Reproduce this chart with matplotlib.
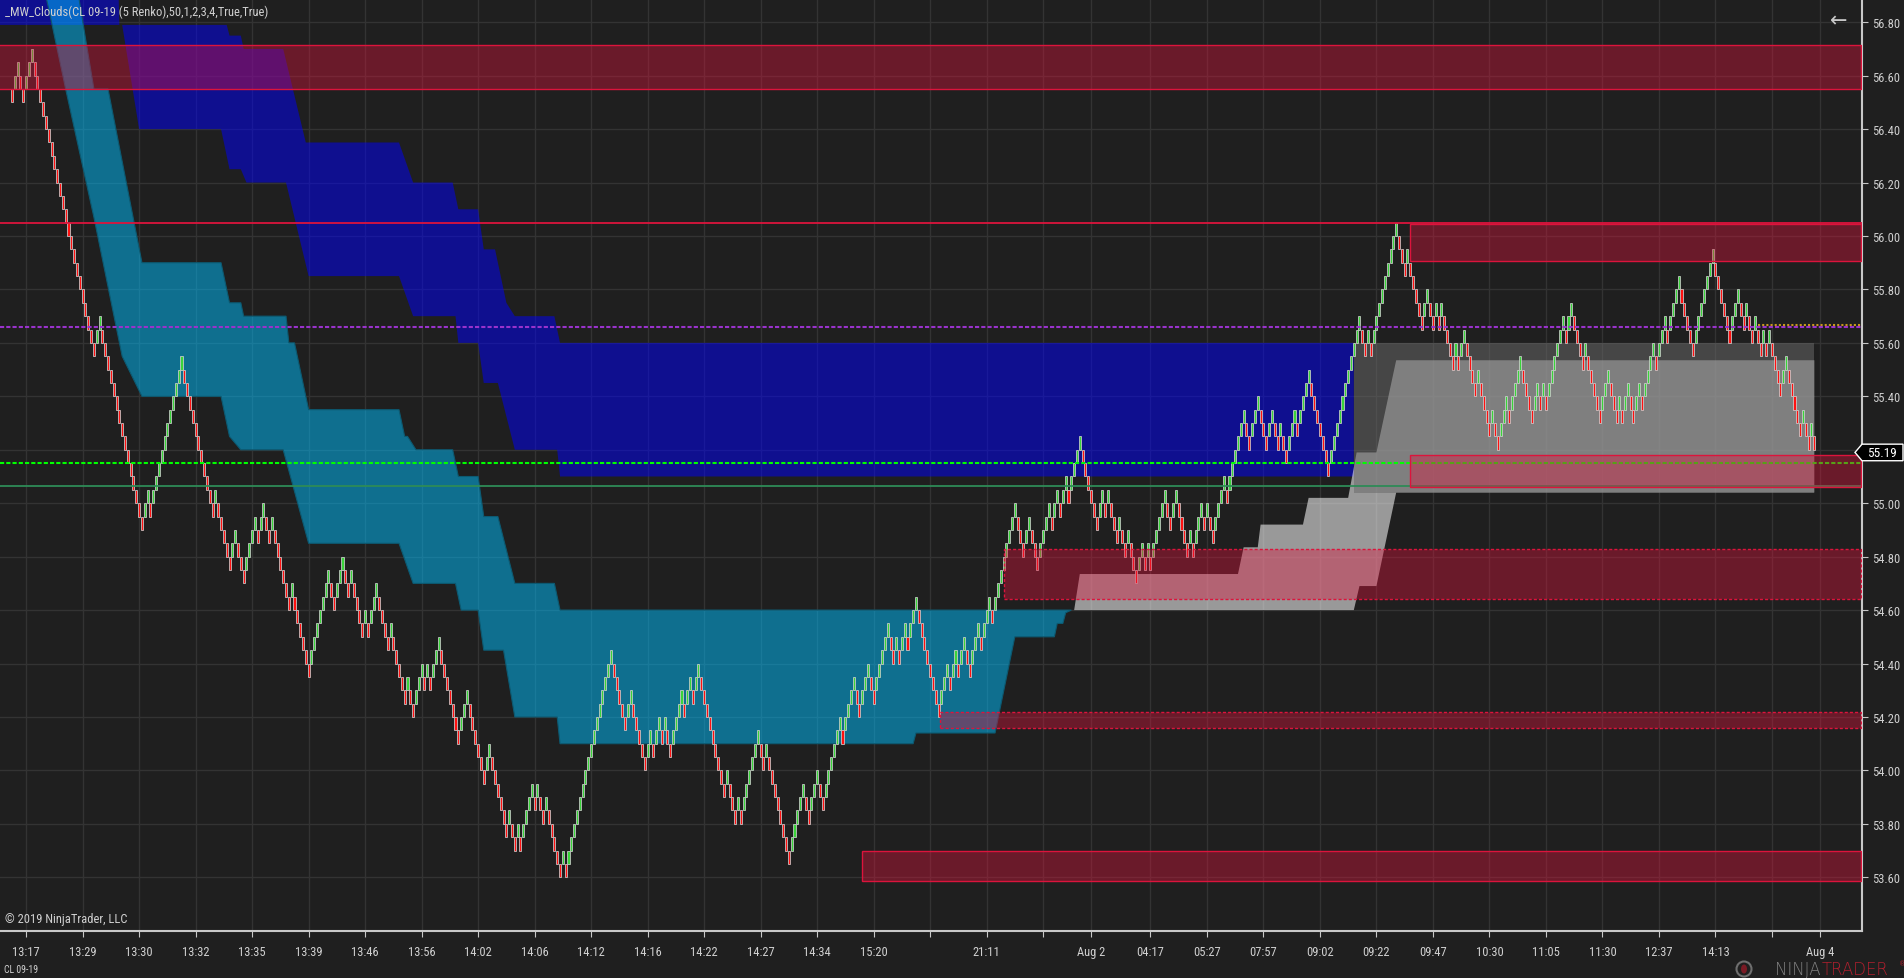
import numpy as np
import matplotlib
matplotlib.use("Agg")
import matplotlib.pyplot as plt
from matplotlib import font_manager
from matplotlib.patches import Rectangle, Polygon, Ellipse
from matplotlib.transforms import blended_transform_factory

# ---- renko bricks (level 0 = box 56.60-56.65), runs of bricks up/down
brick = 0.05
base_price = 56.60
start_level = -2
runs = [
    2, -2, 3, -22, 2, -15, 2, -1, 11, -11, 1,
    -5, 2, -3, 4, -1, 2, -2, 1, -6, 1, -6, 7, -2, 3, -2, 1, -4, 1, -1, 3, -4, 1, -5, 1, -2, 3,
    -1, 1, -1, 3, -7, 3, -6, 2, -6, 1, -2, 1, -1, 4, -1, 1, -2, 1, -5, 1, -1, 16,
    -5, 2, -5, 2, -1, 2, -1, 1, -2, 4, -1, 2, -1, 2, -9, 1, -3, 1, -1, 6, -2, 1, -8, 5, -2, 3,
    -2, 6, -1, 4, -2, 3, -2, 5, -2, 1, -1, 2, -1, 3, -8, 3, -1, 2, -1, 2, -2, 3, -1, 3, -1, 8,
    -3, 2, -3, 4, -1, 2, -1, 2, -1, 4, -6, 2, -1, 1, -3, 1, -2, 1, -3, 2, -1, 1, -1, 5, -2, 2,
    -4, 1, -1, 3, -1, 1, -2, 4, -1, 6, -2, 3, -3, 2, -2, 1, -2, 3, -1, 4, -7, 11, -2, 1, -1, 9,
    -3, 1,
    -5, 2, -2, 1, -1, 1, -4, 1, -1, 2, -4, 1, -4, 1, -2, 3, -1, 4, -4, 2, -1, 1, -1, 6, -1, 2,
    -4, 1, -5, 3, -3, 1, -1, 2, -2, 2, -1, 4, -1, 3, -1, 4, -5, 7, -6, 3, -2, 1, -2, 1, -2, 1,
    -1, 1, -4, 2, -5, 1, -2, 1, -1,
]
last_close = 55.19

# ---- clouds (bar index, price)
blue_up_x = [-5, 37, 38, 76, 77, 81, 82, 96, 104, 137, 142, 156, 158, 165, 167, 171, 175, 178, 192, 194, 475]
blue_up_y = [57.2, 57.2, 56.79, 56.79, 56.75, 56.75, 56.70, 56.70, 56.35, 56.35, 56.20, 56.20, 56.10,
             56.10, 55.95, 55.95, 55.75, 55.70, 55.70, 55.60, 55.60]
blue_lo_x = [-5, 39, 45, 74, 77, 81, 83, 97, 105, 137, 142, 157, 158, 165, 167, 172, 178, 193, 194, 475]
blue_lo_y = [56.79, 56.79, 56.40, 56.40, 56.25, 56.25, 56.20, 56.20, 55.85, 55.85, 55.70, 55.70, 55.60,
             55.60, 55.45, 55.45, 55.20, 55.20, 55.10, 55.10]

cyan_up_x = [-5, 22, 26, 29, 34, 46, 74, 77, 81, 82, 97, 98, 100, 105, 137, 139, 140, 143, 156, 158,
             165, 167, 172, 178, 192, 194, 375]
cyan_up_y = [58.0, 57.0, 56.74, 56.55, 56.55, 55.90, 55.90, 55.75, 55.75, 55.70, 55.70, 55.60, 55.60,
             55.35, 55.35, 55.25, 55.25, 55.20, 55.20, 55.10, 55.10, 54.95, 54.95, 54.70, 54.70,
             54.60, 54.60]
cyan_lo_x = [-5, 13, 19, 29, 39, 46, 74, 77, 81, 96, 105, 137, 142, 157, 159, 165, 167, 174, 178, 193,
             194, 319, 320, 348, 355, 369, 370, 372, 373, 375]
cyan_lo_y = [57.7, 56.85, 56.55, 56.07, 55.55, 55.40, 55.40, 55.25, 55.20, 55.20, 54.85, 54.85, 54.70,
             54.70, 54.60, 54.60, 54.45, 54.45, 54.20, 54.20, 54.10, 54.10, 54.14, 54.14, 54.50,
             54.50, 54.55, 54.55, 54.59, 54.60]

grey_a_up_x = [376, 378, 434, 436, 441, 442, 457, 459, 473, 476, 483, 490, 638]
grey_a_up_y = [54.60, 54.735, 54.735, 54.835, 54.835, 54.92, 54.92, 55.02, 55.02, 55.19, 55.19,
               55.535, 55.535]
grey_a_lo_x = [376, 475, 477, 483, 490, 638]
grey_a_lo_y = [54.60, 54.60, 54.69, 54.69, 55.04, 55.04]
grey_b_up_x = [475, 638]
grey_b_up_y = [55.60, 55.60]
grey_b_lo_x = [475, 638]
grey_b_lo_y = [55.04, 55.04]

# ---- red zones
zone_start = [-5, 495, 495, 351, 328.5, 301]
zone_bottom = [56.55, 55.905, 55.06, 54.64, 54.16, 53.585]
zone_top = [56.715, 56.045, 55.18, 54.83, 54.22, 53.70]
zone_dashed = [False, False, False, True, True, False]
zone_end = 654.5

# ---- horizontal levels
level_price = [56.05, 55.66, 55.15, 55.065]
level_color = ["#dc143c", "#9932cc", "#00ff00", "#2e8b57"]
level_dashed = [False, True, True, False]
gold_price = 55.668
gold_start = 618

# ---- axes labels
time_tick_bars = [5, 25, 45, 65, 85, 105, 125, 145, 165, 185, 205, 225, 245, 265, 285, 305, 325, 345,
                  365, 382, 403, 423, 443, 463, 483, 503, 523, 543, 563, 583, 603, 623, 640]
time_labels = ["13:17", "13:29", "13:30", "13:32", "13:35", "13:39", "13:46", "13:56", "14:02",
               "14:06", "14:12", "14:16", "14:22", "14:27", "14:34", "15:20", "", "21:11", "",
               "Aug 2", "04:17", "05:27", "07:57", "09:02", "09:22", "09:47", "10:30", "11:05",
               "11:30", "12:37", "14:13", "", "Aug 4"]
price_ticks = [53.6, 53.8, 54.0, 54.2, 54.4, 54.6, 54.8, 55.0, 55.2, 55.4, 55.6, 55.8, 56.0, 56.2,
               56.4, 56.6, 56.8]


def pick_font(*names):
    for n in names:
        try:
            font_manager.findfont(n, fallback_to_default=False)
            return n
        except Exception:
            pass
    return "DejaVu Sans"


narrow = pick_font("Liberation Sans Narrow", "Roboto Condensed", "Liberation Sans")
plt.rcParams["font.family"] = [narrow, "DejaVu Sans"]

bg = "#1f1f1f"
fg = "#d0d0d0"
W, H = 1904, 979

# build renko levels
steps = np.concatenate([np.full(abs(r), np.sign(r)) for r in runs])
levels = start_level + np.concatenate([[0], np.cumsum(steps)])
dirs = np.concatenate([[-1], steps])
bar_x = np.arange(len(levels))
bar_bottom = base_price + brick * levels
bar_colors = np.where(dirs > 0, "#3ad43a", "#ff1010")

fig = plt.figure(figsize=(W / 100, H / 100), dpi=100, facecolor=bg)
ax = fig.add_axes([0, 47 / H, 1862 / W, 932 / H])
ax.set_facecolor(bg)
ax.set_xlim(-4.25, 654.9)
ax.set_ylim(53.399, 56.887)


def cloud(ux, uy, lx, ly, **kw):
    xs = np.r_[ux, lx[::-1]]
    ys = np.r_[uy, ly[::-1]]
    ax.fill(xs, ys, **kw)


cloud(blue_up_x, blue_up_y, blue_lo_x, blue_lo_y, color="#0000ff", alpha=0.5, lw=0, zorder=1)
cloud(cyan_up_x, cyan_up_y, cyan_lo_x, cyan_lo_y, facecolor=(0, 0.75, 1, 0.5),
      edgecolor="#0c5a72", lw=0.8, zorder=1.1)
cloud(grey_a_up_x, grey_a_up_y, grey_a_lo_x, grey_a_lo_y, color="white", alpha=0.55, lw=0, zorder=1.2)
cloud(grey_b_up_x, grey_b_up_y, grey_b_lo_x, grey_b_lo_y, color="#696969", alpha=0.53, lw=0, zorder=1.3)

# renko bars
ax.bar(bar_x, brick, bottom=bar_bottom, width=0.72, color=bar_colors,
       edgecolor="#cfcfcf", linewidth=0.55, zorder=3)

# levels
for p, c, d in zip(level_price, level_color, level_dashed):
    ls = (0, (2, 1)) if d else "-"
    ax.axhline(p, color=c, lw=1.5 if d else 1.3, linestyle=ls, zorder=4)
ax.hlines(gold_price, gold_start, 660, color="#c8961e", lw=1.5, linestyle=(0, (1, 1)), zorder=4)

# zones
for xs, yb, yt, d in zip(zone_start, zone_bottom, zone_top, zone_dashed):
    ax.add_patch(Rectangle((xs, yb), zone_end - xs, yt - yb, facecolor=(0.863, 0.078, 0.235, 0.4),
                           edgecolor="#dc143c", lw=1.0, linestyle=(0, (2.2, 1.5)) if d else "-",
                           zorder=5))

# axes styling
ax.grid(True, color="#333333", lw=1)
ax.set_axisbelow(True)
for s in ["top", "left"]:
    ax.spines[s].set_visible(False)
for s in ["right", "bottom"]:
    ax.spines[s].set_color("#c8c8c8")
    ax.spines[s].set_linewidth(1.5)
ax.yaxis.tick_right()
ax.set_yticks(price_ticks)
# the 55.20 label sits under the last-price marker
ax.set_yticklabels(["" if abs(v - last_close) < 0.05 else f"{v:.2f}" for v in price_ticks])
ax.set_xticks(time_tick_bars)
ax.set_xticklabels(time_labels)
ax.tick_params(axis="y", colors="#c8c8c8", labelcolor=fg, labelsize=9, length=4, pad=3)
ax.tick_params(axis="x", colors="#c8c8c8", labelcolor=fg, labelsize=9, length=4, pad=6)

# price marker
tr = blended_transform_factory(fig.transFigure, ax.transData)
ax.add_patch(Polygon([(1855 / W, last_close), (1862 / W, last_close + 0.031), (1903 / W, last_close + 0.031),
                      (1903 / W, last_close - 0.031), (1862 / W, last_close - 0.031)],
                     closed=True, facecolor="black", edgecolor="white", lw=1, transform=tr,
                     clip_on=False, zorder=10))
ax.text(1882 / W, last_close, f"{last_close:.2f}", transform=tr, color="white", fontsize=9.5,
        ha="center", va="center", zorder=11, clip_on=False)

# texts
fig.text(5 / W, 1 - 12 / H, "_MW_Clouds(CL 09-19 (5 Renko),50,1,2,3,4,True,True)", color=fg,
         fontsize=9, ha="left", va="center")
fig.text(5 / W, 1 - 920 / H, "\u00a9 2019 NinjaTrader, LLC", color=fg, fontsize=9, ha="left", va="center")
fig.text(4 / W, 1 - 970 / H, "CL 09-19", color=fg, fontsize=7, ha="left", va="center")
fig.text(1839 / W, 1 - 21 / H, "\u2190", color="#c8c8c8", fontsize=15, ha="center", va="center",
         family="DejaVu Sans")
fig.text(1821 / W, 1 - 970 / H, "NINJA", color="#808080", fontsize=12, ha="right", va="center",
         family="DejaVu Sans", fontweight="light")
fig.text(1822 / W, 1 - 970 / H, "TRADER", color="#b0202e", fontsize=12, ha="left", va="center",
         family="DejaVu Sans", fontweight="light")
fig.text(1899 / W, 1 - 964 / H, "\u00ae", color="#b0202e", fontsize=5, ha="left", va="center",
         family="DejaVu Sans")
fig.add_artist(Ellipse((1744 / W, 1 - 970 / H), 15 / W, 15 / H, transform=fig.transFigure,
                       facecolor="none", edgecolor="#6e6e6e", lw=1.5))
fig.add_artist(Ellipse((1744 / W, 1 - 970 / H), 6 / W, 9 / H, transform=fig.transFigure,
                       facecolor="#7a1a24", edgecolor="none"))

fig.savefig("out.png", dpi=100, facecolor=bg)
